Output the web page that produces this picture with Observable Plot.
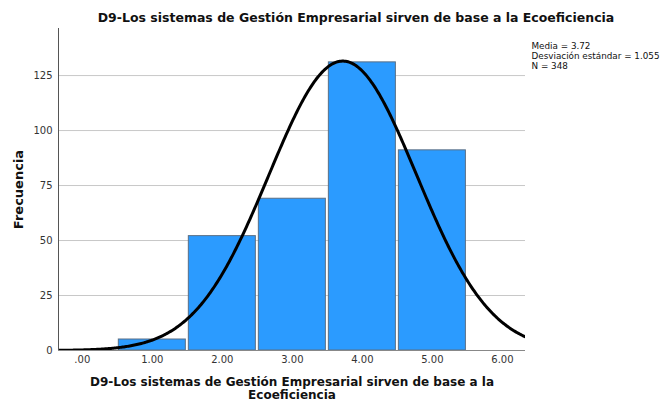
<!DOCTYPE html>
<html>
<head>
<meta charset="utf-8">
<script src="https://cdn.jsdelivr.net/npm/d3@7"></script>
<script src="https://cdn.jsdelivr.net/npm/@observablehq/plot@0.6"></script>
<style>
  html, body { margin: 0; padding: 0; background: #fff; }
  svg { display: block; }
</style>
</head>
<body>
<div id="chart"></div>
<script>
// Data
const categories = [1, 2, 3, 4, 5];
const counts = [5, 52, 69, 131, 91];
const xTicks = [0, 1, 2, 3, 4, 5, 6];
const yTicks = [0, 25, 50, 75, 100, 125];
const mean = 3.72;
const sd = 1.055;
const n = 348;
const titleText = "D9-Los sistemas de Gestión Empresarial sirven de base a la Ecoeficiencia";
const xLabelLines = ["D9-Los sistemas de Gestión Empresarial sirven de base a la", "Ecoeficiencia"];
const statsLines = ["Media = 3.72", "Desviación estándar = 1.055", "N = 348"];

const bars = categories.map((c, i) => ({x1: c - 0.5, x2: c + 0.5, y: counts[i]}));

// Normal curve from the stated mean, sd and N (bin width 1)
const xDomain = [-0.34, 6.33];
const curve = d3.range(0, 401).map(i => {
  const x = xDomain[0] + (xDomain[1] - xDomain[0]) * i / 400;
  const z = (x - mean) / sd;
  return {x, y: n / (sd * Math.sqrt(2 * Math.PI)) * Math.exp(-0.5 * z * z)};
});

const font = "'DejaVu Sans', sans-serif";
const fmt = d => d === 0 ? ".00" : d.toFixed(2);

const chart = Plot.plot({
  width: 661,
  height: 406,
  marginLeft: 58,
  marginRight: 136,
  marginTop: 28,
  marginBottom: 56,
  style: {fontFamily: font, background: "#fff"},
  x: {domain: xDomain, axis: null},
  y: {domain: [0, 146.4], axis: null},
  marks: [
    Plot.ruleY(yTicks.filter(d => d > 0), {stroke: "#c8c8c8", strokeWidth: 1}),
    Plot.rectY(bars, {x1: "x1", x2: "x2", y: "y", fill: "#2b9bff", stroke: "#5a6f85", strokeWidth: 1, insetLeft: 1.5, insetRight: 1.5}),
    Plot.line(curve, {x: "x", y: "y", stroke: "#000", strokeWidth: 3, clip: true}),
    Plot.ruleX([xDomain[0]], {stroke: "#555", strokeWidth: 1}),
    Plot.ruleY([0], {stroke: "#888", strokeWidth: 1.2}),
    Plot.text(yTicks, {x: xDomain[0], y: d => d, text: d => String(d), textAnchor: "end", dx: -6, fontSize: 10, fill: "#333"}),
    Plot.text(xTicks, {x: d => d, y: 0, text: fmt, dy: 5, fontSize: 10, fill: "#333", lineAnchor: "top"}),
    Plot.text(["Frecuencia"], {frameAnchor: "left", dx: -40, rotate: -90, textAnchor: "middle", fontSize: 13, fontWeight: "bold", fill: "#111"}),
    Plot.text([xLabelLines.join("\n")], {frameAnchor: "bottom", dy: 26, lineAnchor: "top", fontSize: 12, fontWeight: "bold", fill: "#111", lineHeight: 1.08}),
    Plot.text([titleText], {frameAnchor: "top", dx: 64, dy: -11, lineAnchor: "middle", fontSize: 12.5, fontWeight: "bold", fill: "#111"}),
    Plot.text([statsLines.join("\n")], {frameAnchor: "top-right", dx: 6, dy: 14, textAnchor: "start", lineAnchor: "top", fontSize: 8.8, fill: "#111", lineHeight: 1.1})
  ]
});
document.getElementById("chart").appendChild(chart);
</script>
</body>
</html>
